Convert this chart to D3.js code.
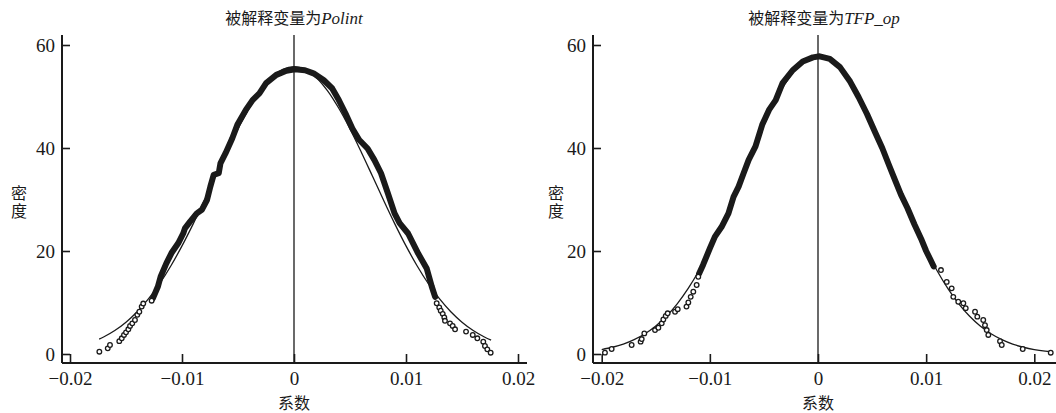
<!DOCTYPE html>
<html>
<head>
<meta charset="utf-8">
<script src="https://cdn.jsdelivr.net/npm/d3@7"></script>
<style>
  body { margin: 0; background: #fff; }
  svg { display: block; }
  text { font-family: "Liberation Serif", "Noto Sans CJK SC", serif; fill: #1a1a1a; }
</style>
</head>
<body>
<div id="chart"></div>
<script>
// tick values
var xTicks = [-0.02, -0.01, 0, 0.01, 0.02];
var yTicks = [0, 20, 40, 60];

// Polint: kernel density, dense middle part (thick band) and sparse tails (circles)
var polintCore = [[-0.0126,10.8],[-0.01215,13.1],[-0.01191,15.0],[-0.0114,17.6],[-0.01094,19.6],[-0.01034,21.5],
  [-0.00989,23.4],[-0.00974,24.4],[-0.00928,25.7],[-0.00868,27.3],[-0.00823,28.0],[-0.00777,29.9],[-0.00747,32.5],
  [-0.00717,34.8],[-0.00672,35.1],[-0.00657,37.0],[-0.00611,39.0],[-0.00551,41.9],[-0.00506,44.5],[-0.0043,47.4],
  [-0.0037,49.3],[-0.00309,50.6],[-0.00249,52.6],[-0.00158,54.2],[-0.00068,55.0],[0.00008,55.3],[0.00098,55.1],
  [0.00174,54.5],[0.00264,53.2],[0.0034,51.6],[0.004,49.3],[0.0046,46.7],[0.00521,43.8],[0.00581,41.6],
  [0.00657,39.9],[0.00717,37.7],[0.00777,35.1],[0.00838,31.2],[0.00898,27.3],[0.00943,25.4],[0.01019,23.4],
  [0.01109,19.5],[0.01185,16.6],[0.0123,13.1],[0.0126,11.1]];
var polintTails = [[-0.01738,0.45],[-0.01663,1.1],[-0.01643,1.75],[-0.0156,2.5],[-0.01538,3.05],[-0.01518,3.7],
  [-0.015,4.2],[-0.01479,4.8],[-0.01464,5.45],[-0.01444,5.95],[-0.0142,6.6],[-0.01399,7.6],[-0.01381,8.2],
  [-0.0136,9.2],[-0.01346,9.8],[-0.01271,10.35],
  [0.01274,9.85],[0.01297,9.05],[0.0131,8.4],[0.01328,7.8],[0.01342,7.1],[0.01348,6.45],[0.01393,5.95],
  [0.01417,5.45],[0.01438,4.8],[0.01536,4.35],[0.01596,3.7],[0.01637,3.05],[0.0169,2.4],[0.01705,1.55],
  [0.01726,0.9],[0.01756,0.25]];
// Polint: normal density overlay
var polintNormal = [[-0.0174,2.89],[-0.017,3.3],[-0.016,4.56],[-0.015,6.18],[-0.014,8.2],[-0.013,10.69],
  [-0.012,13.64],[-0.011,17.09],[-0.01,20.99],[-0.009,25.27],[-0.008,29.84],[-0.007,34.56],[-0.006,39.24],
  [-0.005,43.7],[-0.004,47.71],[-0.003,51.1],[-0.002,53.66],[-0.001,55.26],[0,55.8],[0.001,55.26],[0.002,53.66],
  [0.003,51.1],[0.004,47.71],[0.005,43.7],[0.006,39.24],[0.007,34.56],[0.008,29.84],[0.009,25.27],[0.01,20.99],
  [0.011,17.09],[0.012,13.64],[0.013,10.69],[0.014,8.2],[0.015,6.18],[0.016,4.56],[0.017,3.3],[0.0176,2.7]];

// TFP_op
var tfpCore = [[-0.011,15.6],[-0.01063,17.3],[-0.01,20.5],[-0.00953,22.8],[-0.00891,24.7],[-0.00828,27.3],
  [-0.00781,30.5],[-0.00734,32.5],[-0.00688,35.1],[-0.00641,37.7],[-0.00578,40.3],[-0.00516,44.5],[-0.00453,47.4],
  [-0.00391,49.3],[-0.00328,52.6],[-0.00234,55.1],[-0.00141,56.8],[-0.00047,57.6],[0.00016,57.8],[0.00109,57.3],
  [0.00203,55.7],[0.00297,52.9],[0.00375,49.9],[0.00453,46.6],[0.00531,42.9],[0.00594,40.0],[0.00656,36.7],
  [0.00719,33.4],[0.00766,31.0],[0.00828,28.3],[0.00891,25.2],[0.00953,22.4],[0.01,20.0],[0.0104,18.3],[0.0107,17.0]];
var tfpTails = [[-0.0197,0.26],[-0.01908,0.97],[-0.01723,1.75],[-0.0164,2.4],[-0.0163,2.9],[-0.01606,4.0],
  [-0.01507,4.65],[-0.01476,5.1],[-0.01445,5.95],[-0.0143,6.7],[-0.01408,7.4],[-0.0139,7.9],[-0.01322,8.2],
  [-0.01297,8.7],[-0.01216,9.2],[-0.01199,10.0],[-0.01177,11.1],[-0.01153,12.1],[-0.01122,13.4],[-0.01107,15.0],
  [0.01137,16.3],[0.0119,14.0],[0.01236,12.75],[0.01251,11.1],[0.01297,10.15],[0.01344,9.85],[0.01366,8.9],
  [0.01452,8.2],[0.01473,7.25],[0.01528,6.6],[0.01544,5.6],[0.0156,4.65],[0.01575,3.7],[0.01683,2.5],
  [0.01699,1.75],[0.01893,0.97],[0.02152,0.25]];
var tfpNormal = [[-0.02,0.87],[-0.019,1.31],[-0.018,1.92],[-0.017,2.78],[-0.016,3.93],[-0.015,5.44],[-0.014,7.38],
  [-0.013,9.8],[-0.012,12.74],[-0.011,16.22],[-0.01,20.23],[-0.009,24.69],[-0.008,29.52],[-0.007,34.56],
  [-0.006,39.62],[-0.005,44.47],[-0.004,48.88],[-0.003,52.61],[-0.002,55.44],[-0.001,57.22],[0,57.82],
  [0.001,57.22],[0.002,55.44],[0.003,52.61],[0.004,48.88],[0.005,44.47],[0.006,39.62],[0.007,34.56],
  [0.008,29.52],[0.009,24.69],[0.01,20.23],[0.011,16.22],[0.012,12.74],[0.013,9.8],[0.014,7.38],[0.015,5.44],
  [0.016,3.93],[0.017,2.78],[0.018,1.92],[0.019,1.31],[0.02,0.87],[0.021,0.56],[0.0215,0.45]];

var width = 1056, height = 413;
var ink = "#1a1a1a";

var svg = d3.select("#chart").append("svg")
    .attr("width", width)
    .attr("height", height);

var y = d3.scaleLinear().domain([0, 60]).range([354, 45]);

function drawPanel(p) {
    var x = d3.scaleLinear().domain([-0.02, 0.02]).range(p.xRange);
    var g = svg.append("g");

    // axis lines
    g.append("line")
        .attr("x1", p.axisX).attr("x2", p.axisX)
        .attr("y1", 35).attr("y2", 363)
        .attr("stroke", ink).attr("stroke-width", 2);
    g.append("line")
        .attr("x1", p.axisX).attr("x2", p.axisEnd)
        .attr("y1", 363).attr("y2", 363)
        .attr("stroke", ink).attr("stroke-width", 2);

    // ticks point inwards
    var xAxis = d3.axisBottom(x)
        .tickValues(xTicks)
        .tickSizeInner(-9).tickSizeOuter(0).tickPadding(9)
        .tickFormat(function (d) { return d === 0 ? "0" : d3.format(".2f")(d); });
    var gx = g.append("g").attr("transform", "translate(0,363)").call(xAxis);
    var yAxis = d3.axisLeft(y)
        .tickValues(yTicks)
        .tickSizeInner(-8).tickSizeOuter(0).tickPadding(7);
    var gy = g.append("g").attr("transform", "translate(" + p.axisX + ",0)").call(yAxis);
    [gx, gy].forEach(function (a) {
        a.select(".domain").remove();
        a.selectAll("line").attr("stroke", ink).attr("stroke-width", 1.6);
        a.selectAll("text").attr("font-size", 19).attr("fill", ink)
            .style("font-family", "'Liberation Serif', serif");
    });

    // vertical line at zero
    g.append("line")
        .attr("x1", x(0)).attr("x2", x(0))
        .attr("y1", 35).attr("y2", 363)
        .attr("stroke", ink).attr("stroke-width", 1.3);

    var line = d3.line()
        .x(function (d) { return x(d[0]); })
        .y(function (d) { return y(d[1]); });

    // normal density
    g.append("path")
        .datum(p.normal)
        .attr("d", line.curve(d3.curveCatmullRom))
        .attr("fill", "none")
        .attr("stroke", ink)
        .attr("stroke-width", 1.3);

    // kernel density: thick band where the points overlap
    g.append("path")
        .datum(p.core)
        .attr("d", line.curve(d3.curveLinear))
        .attr("fill", "none")
        .attr("stroke", ink)
        .attr("stroke-width", 6)
        .attr("stroke-linejoin", "round")
        .attr("stroke-linecap", "round");

    g.selectAll("circle.tail")
        .data(p.tails)
        .enter().append("circle")
        .attr("class", "tail")
        .attr("cx", function (d) { return x(d[0]); })
        .attr("cy", function (d) { return y(d[1]); })
        .attr("r", 2.3)
        .attr("fill", "#fff")
        .attr("stroke", ink)
        .attr("stroke-width", 1.3);

    // title
    var t = g.append("text")
        .attr("x", p.titleX).attr("y", 24)
        .attr("text-anchor", "middle")
        .attr("font-size", 16);
    t.append("tspan").style("font-family", "'Noto Sans CJK SC', sans-serif").text("被解释变量为");
    t.append("tspan").attr("font-style", "italic").attr("font-size", 17).text(p.name);

    // axis titles
    g.append("text")
        .attr("x", x(0)).attr("y", 409)
        .attr("text-anchor", "middle")
        .attr("font-size", 16)
        .style("font-family", "'Noto Sans CJK SC', sans-serif")
        .text("系数");
    // vertical label, written top to bottom
    g.append("text")
        .attr("x", p.labelX).attr("y", 203)
        .attr("text-anchor", "middle")
        .attr("font-size", 16)
        .style("writing-mode", "vertical-rl")
        .style("letter-spacing", "2px")
        .style("font-family", "'Noto Sans CJK SC', sans-serif")
        .text("密度");
}

drawPanel({ name: "Polint", core: polintCore, tails: polintTails, normal: polintNormal,
    xRange: [70, 518], axisX: 62, axisEnd: 527, titleX: 294, labelX: 19 });
drawPanel({ name: "TFP_op", core: tfpCore, tails: tfpTails, normal: tfpNormal,
    xRange: [601.7, 1034.3], axisX: 593, axisEnd: 1056, titleX: 824, labelX: 556 });
</script>
</body>
</html>
